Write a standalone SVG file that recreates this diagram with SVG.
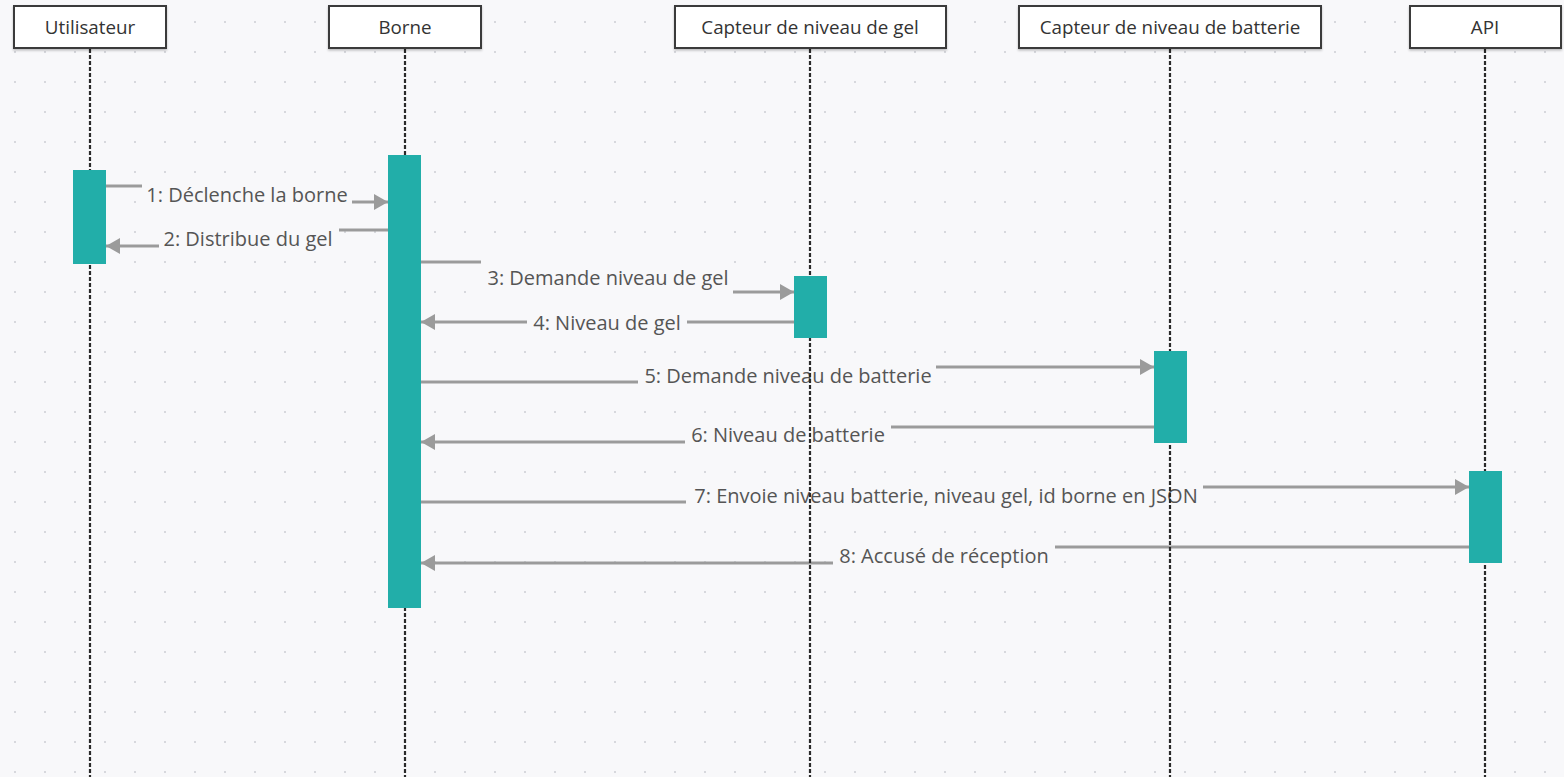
<svg xmlns="http://www.w3.org/2000/svg" width="1564" height="777" viewBox="0 0 1564 777">
<defs>
<pattern id="dots" x="0" y="7" width="30" height="30" patternUnits="userSpaceOnUse">
<circle cx="15" cy="15" r="1.1" fill="#cfd0d6"/>
</pattern>
<marker id="arr" viewBox="0 0 14 16" refX="14" refY="8" markerWidth="14" markerHeight="16" markerUnits="userSpaceOnUse" orient="auto">
<path d="M0,0 L14,8 L0,16 Z" fill="#9b9b9b"/>
</marker>
<filter id="sh" x="-5%" y="-20%" width="110%" height="150%">
<feDropShadow dx="0" dy="1.5" stdDeviation="1" flood-color="#000" flood-opacity="0.25"/>
</filter>
</defs>
<style>
.head{fill:#ffffff;stroke:#3a3a3a;stroke-width:2}
.htxt{font-family:"Open Sans","Noto Sans","Liberation Sans",sans-serif;font-size:18.8px;fill:#333333;text-anchor:middle}
.life{stroke:#2a2a2a;stroke-width:2.2;stroke-dasharray:4 2;fill:none}
.act{fill:#22aea9}
.msg{fill:none;stroke:#9b9b9b;stroke-width:3}
.lbl{font-family:"Open Sans","Noto Sans","Liberation Sans",sans-serif;font-size:20px;fill:#555555;text-anchor:middle}
.lbg{fill:#f8f8fa}
</style>
<rect x="0" y="0" width="1564" height="777" fill="#f8f8fa"/>
<rect x="0" y="0" width="1564" height="777" fill="url(#dots)"/>

<g id="connectors">
<path class="msg" d="M106,186 H247 V202 H388" marker-end="url(#arr)"/>
<path class="msg" d="M388,230 H248 V246 H106" marker-end="url(#arr)"/>
<path class="msg" d="M421,262 H608 V292 H794" marker-end="url(#arr)"/>
<path class="msg" d="M794,322 H421" marker-end="url(#arr)"/>
<path class="msg" d="M421,382 H788 V367 H1154" marker-end="url(#arr)"/>
<path class="msg" d="M1154,427 H788 V442 H421" marker-end="url(#arr)"/>
<path class="msg" d="M421,502 H946 V487 H1469" marker-end="url(#arr)"/>
<path class="msg" d="M1469,547 H944 V563 H421" marker-end="url(#arr)"/>
</g>

<g id="labels">
<rect class="lbg" x="142" y="182" width="210" height="26"/>
<text class="lbl" x="247" y="202">1: Déclenche la borne</text>
<rect class="lbg" x="159" y="226" width="180" height="26"/>
<text class="lbl" x="248" y="246">2: Distribue du gel</text>
<rect class="lbg" x="481" y="258" width="252" height="38"/>
<text class="lbl" x="608" y="285">3: Demande niveau de gel</text>
<rect class="lbg" x="527" y="312" width="160" height="24"/>
<text class="lbl" x="607" y="330">4: Niveau de gel</text>
<rect class="lbg" x="638" y="363" width="298" height="26"/>
<text class="lbl" x="788" y="383">5: Demande niveau de batterie</text>
<rect class="lbg" x="685" y="423" width="206" height="26"/>
<text class="lbl" x="788" y="442">6: Niveau de batterie</text>
<rect class="lbg" x="686" y="483" width="517" height="26"/>
<text class="lbl" x="946" y="503">7: Envoie niveau batterie, niveau gel, id borne en JSON</text>
<rect class="lbg" x="833" y="543" width="222" height="26"/>
<text class="lbl" x="944" y="563">8: Accusé de réception</text>
</g>

<g id="lifelines">
<line class="life" x1="90" y1="49" x2="90" y2="777"/>
<line class="life" x1="405" y1="49" x2="405" y2="777"/>
<line class="life" x1="810" y1="49" x2="810" y2="777"/>
<line class="life" x1="1170" y1="49" x2="1170" y2="777"/>
<line class="life" x1="1485" y1="49" x2="1485" y2="777"/>
</g>

<g id="utilisateur">
<rect class="head" x="14" y="6" width="152" height="42" filter="url(#sh)"/>
<text class="htxt" x="90" y="34">Utilisateur</text>
<rect class="act" x="73" y="170" width="33" height="94"/>
</g>
<g id="borne">
<rect class="head" x="329" y="6" width="152" height="42" filter="url(#sh)"/>
<text class="htxt" x="405" y="34">Borne</text>
<rect class="act" x="388" y="155" width="33" height="453"/>
</g>
<g id="capteur-gel">
<rect class="head" x="675" y="6" width="271" height="42" filter="url(#sh)"/>
<text class="htxt" x="810" y="34">Capteur de niveau de gel</text>
<rect class="act" x="794" y="276" width="33" height="62"/>
</g>
<g id="capteur-batterie">
<rect class="head" x="1019" y="6" width="302" height="42" filter="url(#sh)"/>
<text class="htxt" x="1170" y="34">Capteur de niveau de batterie</text>
<rect class="act" x="1154" y="351" width="33" height="92"/>
</g>
<g id="api">
<rect class="head" x="1410" y="6" width="151" height="42" filter="url(#sh)"/>
<text class="htxt" x="1485" y="34">API</text>
<rect class="act" x="1469" y="471" width="33" height="92"/>
</g>
</svg>
